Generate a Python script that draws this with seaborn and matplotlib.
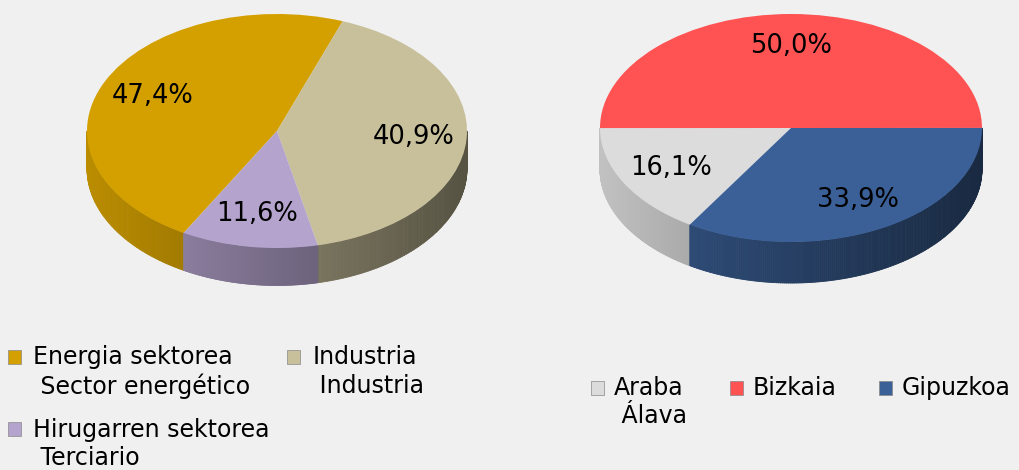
import numpy as np
import matplotlib.pyplot as plt
import matplotlib.colors as mcolors
from matplotlib.collections import PolyCollection
from matplotlib.patches import Patch, Rectangle
from matplotlib.legend_handler import HandlerPatch
import seaborn as sns

# data
sectors = ["Energia sektorea\n Sector energético", "Industria\n Industria",
           "Hirugarren sektorea\n Terciario"]
sector_share = [47.4, 40.9, 11.6]
sector_colors = ["#D4A000", "#C8C09B", "#B4A3CD"]

territories = ["Araba\n Álava", "Bizkaia\n ", "Gipuzkoa\n "]
territory_share = [16.1, 50.0, 33.9]
territory_colors = ["#DCDCDC", "#FF5252", "#3A6097"]

BG = "#F0F0F0"

sns.set_theme(style="white")
plt.rcParams['font.family'] = ['DejaVu Sans']
plt.rcParams['figure.facecolor'] = BG
plt.rcParams['text.color'] = 'black'


def pct_label(p):
    return ("%.1f%%" % p).replace(".", ",")


def pie3d(ax, values, colors, start, depth):
    """Flat pie drawn on a squashed axes plus a shaded side wall"""
    values = np.asarray(values, dtype=float)
    edges = start - np.concatenate([[0], np.cumsum(values / values.sum())]) * 360
    polys, fcs = [], []
    for i, c in enumerate(colors):
        rgb = np.array(mcolors.to_rgb(c))
        t = np.linspace(edges[i + 1], edges[i], 200)
        for a0, a1 in zip(t[:-1], t[1:]):
            m = np.deg2rad((a0 + a1) / 2)
            if np.sin(m) > 0:
                continue
            r0, r1 = np.deg2rad(a0), np.deg2rad(a1)
            x0, y0 = np.cos(r0), min(np.sin(r0), 0)
            x1, y1 = np.cos(r1), min(np.sin(r1), 0)
            polys.append([(x0, y0), (x1, y1), (x1, y1 - depth), (x0, y0 - depth)])
            f = 0.88 - 0.45 * (np.cos(m) + 1) / 2
            fcs.append(tuple(rgb * f))
    ax.add_collection(PolyCollection(polys, facecolors=fcs, edgecolors=fcs,
                                     linewidths=0.6, zorder=1))
    wedges, texts, autotexts = ax.pie(values, colors=colors, startangle=start,
                                      counterclock=False, autopct=pct_label,
                                      pctdistance=0.72,
                                      wedgeprops=dict(linewidth=0),
                                      textprops=dict(fontsize=18.5, color="black"))
    for w in wedges:
        w.set_zorder(2)
    for t in autotexts:
        t.set_zorder(3)
    ax.set_aspect("auto")
    ax.set_xlim(-1.25, 1.25)
    ax.set_ylim(-1.6, 1.1)
    ax.axis("off")


W, H = 1019, 470
fig = plt.figure(figsize=(W / 100, H / 100), dpi=100)


def add_pie_axes(cx, cy, a, b):
    # cx, cy in pixels from the top-left corner; a, b semi-axes in pixels
    left = cx - 1.25 * a
    bottom = (H - cy) - 1.6 * b
    return fig.add_axes([left / W, bottom / H, 2.5 * a / W, 2.7 * b / H])


ax1 = add_pie_axes(277, 131, 190, 117)
pie3d(ax1, sector_share, sector_colors, 240.6, 0.32)

ax2 = add_pie_axes(791, 128, 191, 114)
pie3d(ax2, territory_share, territory_colors, 238, 0.36)


# legend squares sit next to the first line of two-line labels
FS = 17
LS = 1.23
SHIFT = 0.5 * LS * 0.94 * FS + 1.5


def top_square(legend, orig_handle, xdescent, ydescent, width, height, fontsize):
    return Rectangle((-xdescent, -ydescent + SHIFT), width, height)


def legend_style(leg):
    for t in leg.get_texts():
        t.set_linespacing(LS)
        t.set_color("black")


h1 = [Patch(facecolor=c, edgecolor="#888888", linewidth=0.5) for c in sector_colors]
order = [0, 2, 1]
leg1 = fig.legend([h1[i] for i in order], [sectors[i] for i in order],
                  loc="upper left", bbox_to_anchor=(-0.001, 0.287), ncol=2,
                  frameon=False, fontsize=FS, handlelength=0.55,
                  handleheight=0.55, handletextpad=0.5, columnspacing=0.75,
                  labelspacing=0.8, borderaxespad=0,
                  handler_map={Patch: HandlerPatch(patch_func=top_square)})
legend_style(leg1)

h2 = [Patch(facecolor=c, edgecolor="#888888", linewidth=0.5) for c in territory_colors]
leg2 = fig.legend(h2, territories, loc="upper left", bbox_to_anchor=(0.571, 0.22),
                  ncol=3, frameon=False, fontsize=FS, handlelength=0.55,
                  handleheight=0.55, handletextpad=0.4, columnspacing=1.82,
                  borderaxespad=0,
                  handler_map={Patch: HandlerPatch(patch_func=top_square)})
legend_style(leg2)

fig.savefig("out.png", dpi=100, facecolor=BG)
